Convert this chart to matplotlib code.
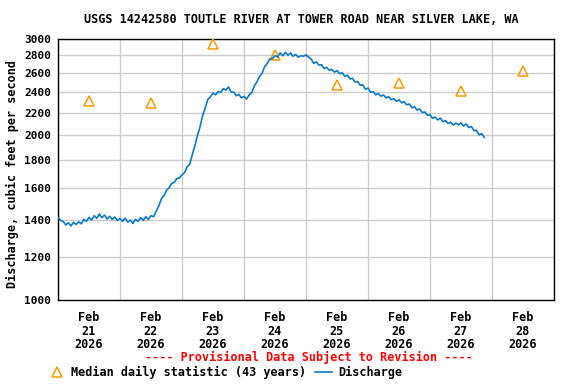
import matplotlib as mpl
mpl.use('Agg')
import numpy as np
import pandas as pd
import matplotlib.dates as mdates
from matplotlib import pyplot as plt
from matplotlib.ticker import FixedLocator, FixedFormatter

# Hourly discharge (cfs), starting Feb 21 2026 00:00
start = pd.Timestamp('2026-02-21 00:00')
discharge = [
    # Feb 21
    1415, 1398, 1392, 1372, 1384, 1366, 1386, 1374, 1390, 1378, 1404, 1392,
    1416, 1400, 1426, 1410, 1436, 1414, 1430, 1406, 1422, 1404, 1418, 1398,
    # Feb 22
    1410, 1392, 1412, 1388, 1400, 1380, 1404, 1392, 1414, 1398, 1420, 1404,
    1426, 1420, 1452, 1486, 1530, 1552, 1586, 1604, 1634, 1640, 1668, 1672,
    # Feb 23
    1694, 1710, 1752, 1770, 1846, 1915, 2000, 2075, 2176, 2245, 2326, 2352,
    2390, 2372, 2405, 2396, 2435, 2418, 2452, 2400, 2398, 2362, 2376, 2342,
    # Feb 24
    2356, 2330, 2370, 2395, 2462, 2505, 2560, 2598, 2670, 2705, 2760, 2762,
    2798, 2780, 2830, 2796, 2836, 2804, 2830, 2790, 2812, 2778, 2796, 2790,
    # Feb 25
    2806, 2780, 2756, 2708, 2724, 2688, 2692, 2650, 2662, 2630, 2640, 2610,
    2626, 2592, 2604, 2562, 2576, 2536, 2542, 2502, 2508, 2470, 2474, 2428,
    # Feb 26
    2440, 2398, 2404, 2372, 2384, 2358, 2370, 2342, 2354, 2324, 2334, 2308,
    2322, 2294, 2304, 2274, 2282, 2246, 2256, 2224, 2234, 2202, 2206, 2176,
    # Feb 27
    2182, 2148, 2160, 2134, 2150, 2118, 2128, 2102, 2114, 2088, 2106, 2090,
    2108, 2080, 2098, 2066, 2076, 2040, 2042, 2004, 2014, 1984,
]
times = pd.date_range(start, periods=len(discharge), freq='h')

# Median daily statistic (43 years), plotted at noon
median_days = pd.date_range('2026-02-21 12:00', periods=8, freq='D')
median_vals = [2310, 2290, 2940, 2800, 2467, 2490, 2407, 2622]

ytick_vals = [1000, 1200, 1400, 1600, 1800, 2000, 2200, 2400, 2600, 2800, 3000]

mpl.rc('font', family='DejaVu Sans Mono', weight='bold', size=8.5)

line_col = '#0a7acc'
med_col = '#ff9900'

fig = plt.figure(figsize=(5.76, 3.84), dpi=100)
ax = fig.add_axes([58/576, 84/384, 496/576, 261/384])

ax.plot(times, discharge, color=line_col, lw=1.2, label='Discharge', zorder=4)
ax.plot(median_days, median_vals, linestyle='none', marker='^', ms=7,
        mfc='none', mec=med_col, mew=1.1, label='Median daily statistic (43 years)', zorder=3)

ax.set_yscale('log')
ax.set_ylim(1000, 3000)
ax.yaxis.set_major_locator(FixedLocator(ytick_vals))
ax.yaxis.set_major_formatter(FixedFormatter([str(v) for v in ytick_vals]))
ax.yaxis.set_minor_locator(FixedLocator([]))
ax.set_xlim(start, start + pd.Timedelta(days=8))

noon = pd.date_range('2026-02-21 12:00', periods=8, freq='D')
ax.xaxis.set_major_locator(FixedLocator(mdates.date2num(noon)))
ax.xaxis.set_major_formatter(FixedFormatter([d.strftime('%b\n%d\n%Y') for d in noon]))
midnights = pd.date_range(start, periods=9, freq='D')
ax.xaxis.set_minor_locator(FixedLocator(mdates.date2num(midnights)))

ax.grid(True, which='major', axis='y', color='#cccccc', lw=1)
ax.grid(True, which='minor', axis='x', color='#cccccc', lw=1)
ax.set_axisbelow(True)
ax.tick_params(which='both', length=0)
ax.tick_params(axis='x', pad=8)
ax.tick_params(axis='y', pad=5, labelsize=8)
for lab in ax.get_xticklabels():
    lab.set_linespacing(1.05)
for sp in ax.spines.values():
    sp.set_linewidth(1)
    sp.set_color('black')

fig.text(0.523, 0.948, 'USGS 14242580 TOUTLE RIVER AT TOWER ROAD NEAR SILVER LAKE, WA',
         ha='center', va='center', fontsize=8.5)
fig.text(0.021, 0.548, 'Discharge, cubic feet per second', rotation=90,
         ha='center', va='center', fontsize=8.5)
fig.text(0.536, 0.068, '---- Provisional Data Subject to Revision ----',
         ha='center', va='center', color='red', fontsize=8.5)

h, l = ax.get_legend_handles_labels()
fig.legend(h[::-1], l[::-1], loc='center left', bbox_to_anchor=(48/576, 0.031),
           ncol=2, frameon=False, handlelength=1.45, handletextpad=0.5,
           columnspacing=0.75, borderpad=0, borderaxespad=0, fontsize=8.5)

fig.savefig('out.png', dpi=100)
